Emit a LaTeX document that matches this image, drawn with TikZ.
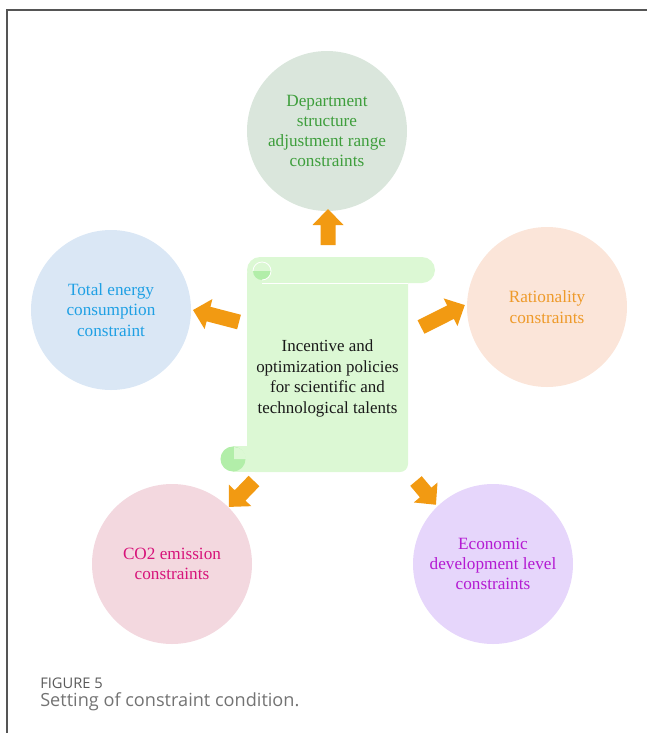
\documentclass[tikz,border=0pt]{standalone}
\usepackage{fontspec}
\usetikzlibrary{calc}
\setmainfont{Liberation Serif}
\newfontfamily\capfont{Open Sans}
\definecolor{frameline}{HTML}{555555}
\definecolor{scrollbody}{HTML}{DCF8D4}
\definecolor{scrollcurl}{HTML}{B2EEA9}
\definecolor{arrowfill}{HTML}{F29A12}
\definecolor{capgray}{HTML}{5A5A5A}
\definecolor{fillA}{HTML}{DAE6DC}\definecolor{textA}{HTML}{3E9E3C}
\definecolor{fillB}{HTML}{DAE7F5}\definecolor{textB}{HTML}{1FA0E4}
\definecolor{fillC}{HTML}{FBE5D9}\definecolor{textC}{HTML}{EE9A2A}
\definecolor{fillD}{HTML}{F3D8DF}\definecolor{textD}{HTML}{D7137A}
\definecolor{fillE}{HTML}{E6D6FB}\definecolor{textE}{HTML}{B41AD2}
% block arrow: tail coordinate, direction angle, length (px units)
\newcommand{\blockarrow}[3]{%
  \begin{scope}[shift={(#1)}, rotate=#2]
    \fill[arrowfill] (0,-7.5) -- ({#3-16},-7.5) -- ({#3-16},-15.5) -- (#3,0)
      -- ({#3-16},15.5) -- ({#3-16},7.5) -- (0,7.5) -- cycle;
  \end{scope}}
\begin{document}
\begin{tikzpicture}[x=0.75pt, y=-0.75pt,
  goal/.style={circle, minimum size=120pt, inner sep=0pt, align=center,
    font=\fontsize{12.9}{15.2}\selectfont},
  centretext/.style={align=center, font=\fontsize{12.7}{15.6}\selectfont, text=black!90}]
\useasboundingbox (0,0) rectangle (647,733);
% frame
\draw[frameline, line width=0.9pt] (7,733) -- (7,10) -- (647,10);

% scroll
\fill[scrollbody, rounded corners=9.75pt] (247,257) rectangle (435,283);
\fill[scrollbody, rounded corners=6pt] (247,266) rectangle (408,472);
\fill[scrollbody] (233,446) rectangle (262,472);
\draw[white, line width=0.5pt] (262,283) -- (408,283);
\fill[scrollcurl] ($(262,271)+(-6.75pt,0)$) arc[start angle=180, end angle=360, radius=6.75pt] -- cycle;
\draw[white, line width=0.6pt] ($(262,271)+(-6.75pt,0)$) arc[start angle=180, end angle=-90, radius=6.75pt];
\fill[scrollcurl] (233,459) circle[radius=9.4pt];
\fill[scrollbody] (234,459) -- ++(0,9pt) arc[start angle=90, end angle=0, radius=9pt] -- cycle;
\node[centretext] (policy) at (327.5,378.5)
  {Incentive and\\optimization policies\\for scientific and\\technological talents};

% constraint circles
\node[goal, fill=fillA, text=textA] (dept) at (327,131)
  {Department\\structure\\adjustment range\\constraints};
\node[goal, fill=fillB, text=textB] (energy) at (111,310)
  {Total energy\\consumption\\constraint};
\node[goal, fill=fillC, text=textC] (ration) at (547,307)
  {Rationality\\constraints};
\node[goal, fill=fillD, text=textD] (co2) at (172,564)
  {CO2 emission\\constraints};
\node[goal, fill=fillE, text=textE] (econ) at (493,564)
  {Economic\\development level\\constraints};

% arrows from the scroll to each circle
\coordinate (tUp) at (328,245);
\coordinate (tLeft) at (239,322);
\coordinate (tRight) at (421,327);
\coordinate (tBL) at (254,481);
\coordinate (tBR) at (416,481);
\blockarrow{tUp}{90}{36}
\blockarrow{tLeft}{165.4}{47.5}
\blockarrow{tRight}{26.6}{49}
\blockarrow{tBL}{226}{36}
\blockarrow{tBR}{-50}{31}

% caption
\node[anchor=west, inner sep=0pt, text=capgray, font=\capfont\fontsize{11}{13}\selectfont] (fig) at (40,683) {FIGURE 5};
\node[anchor=west, inner sep=0pt, text=capgray!85, font=\capfont\fontsize{13.6}{16}\selectfont] (cap) at (40,702) {Setting of constraint condition.};
\end{tikzpicture}
\end{document}
